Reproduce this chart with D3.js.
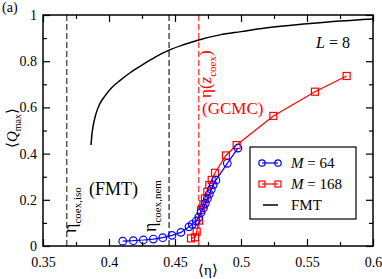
<!DOCTYPE html>
<html>
<head>
<meta charset="utf-8">
<script src="https://cdn.jsdelivr.net/npm/d3@7"></script>
<style>
  body { margin: 0; background: #fff; }
  svg text { font-family: "Liberation Serif", "Times New Roman", serif !important; }
</style>
</head>
<body>
<div class="canva"></div>
<script>
// data
var etaM64 = [0.4104, 0.4184, 0.426, 0.4336, 0.4407, 0.4477, 0.4545, 0.4606, 0.4631, 0.4661, 0.468, 0.4697, 0.4715, 0.473, 0.4745, 0.476, 0.4775, 0.479, 0.481, 0.4896, 0.4977];
var qM64 = [0.021, 0.023, 0.026, 0.030, 0.036, 0.046, 0.059, 0.083, 0.094, 0.108, 0.125, 0.145, 0.165, 0.185, 0.205, 0.225, 0.245, 0.265, 0.285, 0.358, 0.424];

var etaM168 = [0.4621, 0.4652, 0.4664, 0.4682, 0.4697, 0.4715, 0.4727, 0.4745, 0.476, 0.4778, 0.4803, 0.4886, 0.4967, 0.5245, 0.556, 0.580];
var qM168 = [0.033, 0.038, 0.062, 0.110, 0.156, 0.180, 0.206, 0.235, 0.264, 0.286, 0.317, 0.392, 0.437, 0.563, 0.668, 0.736];

var etaFMT = [0.3864, 0.387, 0.388, 0.390, 0.393, 0.397, 0.402, 0.408, 0.416, 0.425, 0.435, 0.4455, 0.457, 0.468, 0.484, 0.50, 0.52, 0.55, 0.575, 0.6];
var qFMT = [0.437, 0.48, 0.52, 0.57, 0.615, 0.65, 0.685, 0.715, 0.75, 0.783, 0.818, 0.848, 0.872, 0.892, 0.914, 0.928, 0.945, 0.962, 0.974, 0.983];

var etaCoexIso = 0.368;
var etaCoexNem = 0.4455;
var etaGCMC = 0.468;

var xTicks = [0.35, 0.4, 0.45, 0.5, 0.55, 0.6];
var xMinor = [0.375, 0.425, 0.475, 0.525, 0.575];
var yTicks = [0, 0.2, 0.4, 0.6, 0.8, 1];
var yMinor = [0.1, 0.3, 0.5, 0.7, 0.9];

var W = 382, H = 279;
var margin = {top: 15, right: 9, bottom: 33, left: 43};
var serif = "'Liberation Serif', 'Times New Roman', serif";

var svg = d3.select(".canva").append("svg")
  .attr("width", W).attr("height", H);

var x = d3.scaleLinear().domain([0.35, 0.6]).range([margin.left, W - margin.right]);
var y = d3.scaleLinear().domain([0, 1]).range([H - margin.bottom, margin.top]);

function zip(a, b) { return a.map(function(v, i) { return [v, b[i]]; }); }
var m64 = zip(etaM64, qM64), m168 = zip(etaM168, qM168), fmt = zip(etaFMT, qFMT);

// dashed coexistence lines
function vline(v, col) {
  svg.append("line")
    .attr("x1", x(v)).attr("x2", x(v))
    .attr("y1", y(0)).attr("y2", y(1))
    .attr("stroke", col).attr("stroke-width", 1.3)
    .attr("stroke-dasharray", "6,3");
}
vline(etaCoexIso, "#444");
vline(etaCoexNem, "#333");
vline(etaGCMC, "#f33");

// FMT curve
svg.append("path")
  .datum(fmt)
  .attr("fill", "none").attr("stroke", "#000").attr("stroke-width", 1.5)
  .attr("d", d3.line().x(function(d) { return x(d[0]); }).y(function(d) { return y(d[1]); }).curve(d3.curveMonotoneX));

var line = d3.line().x(function(d) { return x(d[0]); }).y(function(d) { return y(d[1]); });

// M=168 red squares
svg.append("path").datum(m168)
  .attr("fill", "none").attr("stroke", "#f00").attr("stroke-width", 1.2).attr("d", line);
svg.selectAll(".sq").data(m168).enter().append("rect")
  .attr("x", function(d) { return x(d[0]) - 3.5; })
  .attr("y", function(d) { return y(d[1]) - 3.5; })
  .attr("width", 7).attr("height", 7)
  .attr("fill", "none").attr("stroke", "#f00").attr("stroke-width", 1.2);

// M=64 blue circles
svg.append("path").datum(m64)
  .attr("fill", "none").attr("stroke", "#00f").attr("stroke-width", 1.2).attr("d", line);
svg.selectAll(".ci").data(m64).enter().append("circle")
  .attr("cx", function(d) { return x(d[0]); })
  .attr("cy", function(d) { return y(d[1]); })
  .attr("r", 3.8)
  .attr("fill", "none").attr("stroke", "#00f").attr("stroke-width", 1.2);

// axes, ticks inward
var fmtTick = d3.format("~g");
function addAxis(axis, tr) {
  var g = svg.append("g").attr("transform", tr).call(axis)
    .attr("font-family", serif).attr("font-size", 14);
  g.select(".domain").remove();
  g.selectAll("line").attr("stroke", "#000").attr("stroke-width", 1.2);
  g.selectAll("text").style("font-family", serif).style("font-size", "14px").attr("fill", "#000");
  return g;
}
addAxis(d3.axisBottom(x).tickValues(xTicks).tickSize(-7).tickPadding(11).tickFormat(fmtTick), "translate(0," + y(0) + ")");
addAxis(d3.axisBottom(x).tickValues(xMinor).tickSize(-4).tickFormat(""), "translate(0," + y(0) + ")");
addAxis(d3.axisTop(x).tickValues(xTicks).tickSize(-7).tickFormat(""), "translate(0," + y(1) + ")");
addAxis(d3.axisTop(x).tickValues(xMinor).tickSize(-4).tickFormat(""), "translate(0," + y(1) + ")");
addAxis(d3.axisLeft(y).tickValues(yTicks).tickSize(-7).tickPadding(6).tickFormat(fmtTick), "translate(" + x(0.35) + ",0)");
addAxis(d3.axisLeft(y).tickValues(yMinor).tickSize(-4).tickFormat(""), "translate(" + x(0.35) + ",0)");
addAxis(d3.axisRight(y).tickValues(yTicks).tickSize(-7).tickFormat(""), "translate(" + x(0.6) + ",0)");
addAxis(d3.axisRight(y).tickValues(yMinor).tickSize(-4).tickFormat(""), "translate(" + x(0.6) + ",0)");

svg.append("rect")
  .attr("x", x(0.35)).attr("y", y(1))
  .attr("width", x(0.6) - x(0.35)).attr("height", y(0) - y(1))
  .attr("fill", "none").attr("stroke", "#000").attr("stroke-width", 1.5);

// labels
svg.append("text").attr("x", 2).attr("y", 12).attr("font-size", 14).text("(a)");

var xl = svg.append("text").attr("x", x(0.475)).attr("y", 275).attr("text-anchor", "middle").attr("font-size", 15);
xl.text("\u27E8\u03B7\u27E9");

var yl = svg.append("text").attr("transform", "translate(17,128) rotate(-90)").attr("text-anchor", "middle").attr("font-size", 15);
yl.append("tspan").text("\u27E8");
yl.append("tspan").attr("font-style", "italic").text("Q");
yl.append("tspan").attr("font-size", 10).attr("dy", 4).text("max");
yl.append("tspan").attr("dy", -4).text("\u27E9");

function rotLabel(px, py, sub, col) {
  var t = svg.append("text").attr("transform", "translate(" + px + "," + py + ") rotate(-90)")
    .attr("font-size", 18).attr("fill", col);
  t.append("tspan").text("\u03B7");
  t.append("tspan").attr("font-size", 11).attr("dy", 5).text(sub);
  return t;
}
rotLabel(76, 233, "coex,iso", "#000");
rotLabel(156, 232, "coex,nem", "#000");

var tg = svg.append("text").attr("transform", "translate(211,98) rotate(-90)")
  .attr("font-size", 17).attr("fill", "#f00");
tg.append("tspan").text("\u03B7(");
tg.append("tspan").attr("font-style", "italic").text("z");
tg.append("tspan").attr("font-size", 11).attr("dy", 5).text("coex");
tg.append("tspan").attr("dy", -5).text(")");

svg.append("text").attr("x", 202).attr("y", 114).attr("font-size", 17).attr("fill", "#f00").text("(GCMC)");
svg.append("text").attr("x", 89).attr("y", 195).attr("font-size", 18).attr("fill", "#000").text("(FMT)");

var lt = svg.append("text").attr("x", 350).attr("y", 48).attr("text-anchor", "end").attr("font-size", 16);
lt.append("tspan").attr("font-style", "italic").text("L");
lt.append("tspan").text(" = 8");

// legend
var leg = svg.append("g");
leg.append("rect").attr("x", 250).attr("y", 147).attr("width", 106).attr("height", 72)
  .attr("fill", "#fff").attr("stroke", "#000").attr("stroke-width", 1.2);
var entries = [
  {name: "64", col: "#00f", sym: "circle", yy: 163},
  {name: "168", col: "#f00", sym: "square", yy: 184},
  {name: "FMT", col: "#000", sym: "none", yy: 205}
];
entries.forEach(function(e) {
  if (e.sym == "none") {
    leg.append("line").attr("x1", 263).attr("x2", 278).attr("y1", e.yy).attr("y2", e.yy)
      .attr("stroke", "#000").attr("stroke-width", 1.5);
    leg.append("text").attr("x", 291).attr("y", e.yy + 5).attr("font-size", 15).text("FMT");
    return;
  }
  leg.append("line").attr("x1", 262).attr("x2", 278).attr("y1", e.yy).attr("y2", e.yy)
    .attr("stroke", e.col).attr("stroke-width", 1.2);
  [262, 278].forEach(function(cx) {
    if (e.sym == "circle") {
      leg.append("circle").attr("cx", cx).attr("cy", e.yy).attr("r", 3.2)
        .attr("fill", "none").attr("stroke", e.col).attr("stroke-width", 1.2);
    } else {
      leg.append("rect").attr("x", cx - 3).attr("y", e.yy - 3).attr("width", 6).attr("height", 6)
        .attr("fill", "none").attr("stroke", e.col).attr("stroke-width", 1.2);
    }
  });
  var t = leg.append("text").attr("x", 291).attr("y", e.yy + 5).attr("font-size", 15);
  t.append("tspan").attr("font-style", "italic").text("M");
  t.append("tspan").text(" = " + e.name);
});
</script>
</body>
</html>
